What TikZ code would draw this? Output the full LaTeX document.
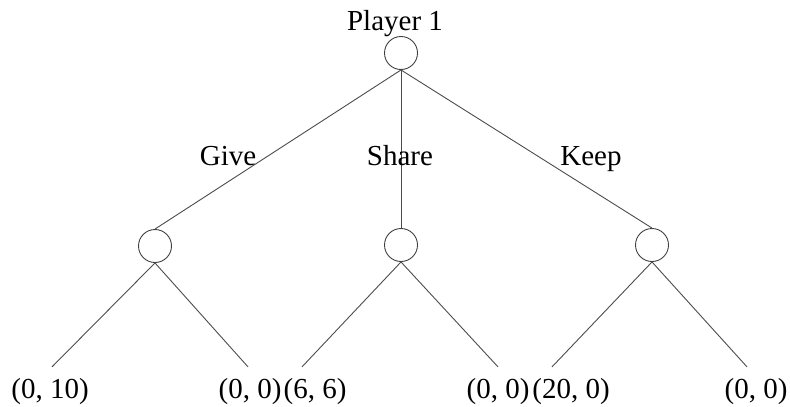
\documentclass[tikz,border=0pt]{standalone}
\usepackage{fontspec}
\setmainfont{Liberation Serif}
\begin{document}
\begin{tikzpicture}[x=1pt,y=-1pt,
  every node/.style={font=\fontsize{29}{33}\selectfont},
  choice/.style={circle,draw=black!75,line width=0.9pt,minimum size=33pt,inner sep=0pt},
  payoff/.style={anchor=base,inner sep=0pt,outer ysep=11pt},
  edge/.style={draw=black!70,line width=0.9pt},
  lbl/.style={inner sep=0pt,anchor=base}]
\useasboundingbox (0,0) rectangle (790,407);
\node[choice] (root) at (401,53) {};
\node[lbl] (p1) at (395,30) {Player 1};
\node[choice] (c1) at (155,246) {};
\node[choice] (c2) at (401,245) {};
\node[choice] (c3) at (652,245) {};
\node[payoff] (l1) at (50,398) {(0, 10)};
\node[payoff] (l2) at (250,398) {(0, 0)};
\node[payoff] (l3) at (315,398) {(6, 6)};
\node[payoff] (l4) at (498,398) {(0, 0)};
\node[payoff] (l5) at (571,398) {(20, 0)};
\node[payoff] (l6) at (756,398) {(0, 0)};
\draw[edge] (root.south) -- (c1.north);
\draw[edge] (root.south) -- (c2.north);
\draw[edge] (root.south) -- (c3.north);
\draw[edge] (c1.south) -- ([xshift=2pt]l1.north);
\draw[edge] (c1.south) -- ([xshift=-2pt]l2.north);
\draw[edge] (c2.south) -- ([xshift=-13pt]l3.north);
\draw[edge] (c2.south) -- (l4.north);
\draw[edge] (c3.south) -- ([xshift=-19pt]l5.north);
\draw[edge] (c3.south) -- ([xshift=-9pt]l6.north);
\node[lbl] (give) at (228,165) {Give};
\node[lbl] (share) at (400,165) {Share};
\node[lbl] (keep) at (591,165) {Keep};
\end{tikzpicture}
\end{document}
